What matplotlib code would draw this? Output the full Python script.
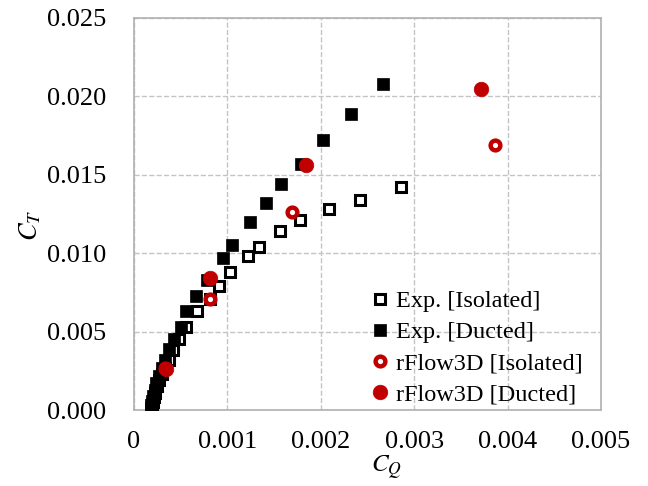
import numpy as np
import matplotlib.pyplot as plt

plt.rcParams['font.family'] = ['Liberation Serif', 'DejaVu Serif']
plt.rcParams['mathtext.fontset'] = 'stix'

# Exp. [Isolated]
exp_iso_cq = [0.00286, 0.00242, 0.00209, 0.00178, 0.00156, 0.00134, 0.00122,
              0.00103, 0.00091, 0.00081, 0.00067, 0.00056, 0.00048, 0.00042,
              0.00037, 0.00033, 0.00030, 0.00027, 0.00025, 0.00023, 0.00021,
              0.00020, 0.00019, 0.00019]
exp_iso_ct = [0.0142, 0.0134, 0.0128, 0.0121, 0.0114, 0.0104, 0.0098,
              0.0088, 0.0079, 0.0071, 0.0063, 0.0053, 0.0045, 0.0038,
              0.0032, 0.0027, 0.0023, 0.0019, 0.0015, 0.0011, 0.0008,
              0.0005, 0.0003, 0.0001]

# Exp. [Ducted]
exp_duct_cq = [0.00267, 0.00232, 0.00202, 0.00179, 0.00157, 0.00141, 0.00124,
               0.00105, 0.00095, 0.00078, 0.00066, 0.00056, 0.00050, 0.00043,
               0.00038, 0.00033, 0.00030, 0.00027, 0.00024, 0.00022, 0.00020,
               0.00019, 0.00018, 0.00018]
exp_duct_ct = [0.0208, 0.0189, 0.0172, 0.0157, 0.0144, 0.0132, 0.0120,
               0.0105, 0.0097, 0.0083, 0.0073, 0.0063, 0.0053, 0.0045,
               0.0039, 0.0032, 0.0027, 0.0022, 0.0017, 0.0013, 0.0009,
               0.0006, 0.0003, 0.0001]

# rFlow3D
rf_iso_cq = [0.00033, 0.00081, 0.00169, 0.00386]
rf_iso_ct = [0.0027, 0.0071, 0.0126, 0.0169]
rf_duct_cq = [0.00034, 0.00081, 0.00184, 0.00372]
rf_duct_ct = [0.0026, 0.0084, 0.0156, 0.0205]

red = '#c00000'

fig = plt.figure(figsize=(6.48, 4.86), dpi=100)
ax = fig.add_axes([134 / 648, 1 - 410 / 486, 467 / 648, 392 / 486])

ax.plot(exp_iso_cq, exp_iso_ct, 's', ms=6.8, mfc='white', mec='black', mew=2.2,
        label='Exp. [Isolated]', zorder=3)
ax.plot(exp_duct_cq, exp_duct_ct, 's', ms=8, mfc='black', mec='black', mew=0.5,
        label='Exp. [Ducted]', zorder=3)
ax.plot(rf_iso_cq, rf_iso_ct, 'o', ms=7, mfc='white', mec=red, mew=3.2,
        label='rFlow3D [Isolated]', zorder=4)
ax.plot(rf_duct_cq, rf_duct_ct, 'o', ms=10.5, mfc=red, mec=red, mew=0.5,
        label='rFlow3D [Ducted]', zorder=4)

ax.set_xlim(0, 0.005)
ax.set_ylim(0, 0.025)
ax.set_xticks(np.arange(0, 0.0051, 0.001))
ax.set_xticklabels(['0', '0.001', '0.002', '0.003', '0.004', '0.005'])
ax.set_yticks(np.arange(0, 0.0251, 0.005))
ax.set_yticklabels(['0.000', '0.005', '0.010', '0.015', '0.020', '0.025'])
ax.tick_params(axis='x', length=0, labelsize=19, pad=15)
ax.tick_params(axis='y', length=0, labelsize=19, pad=20)

ax.grid(True, color='#c4c4c4', linestyle='--', linewidth=1)
ax.set_axisbelow(True)
for s in ax.spines.values():
    s.set_color('#b0b0b0')
    s.set_linewidth(1.2)

ax.set_xlabel('$C_Q$', fontsize=18)
ax.set_ylabel('$C_T$', fontsize=19)
ax.xaxis.set_label_coords(0.54, -0.11)
ax.yaxis.set_label_coords(-0.195, 0.47)

ax.legend(loc='upper left', frameon=False, fontsize=17.5, handlelength=0.6,
          handletextpad=0.35, labelspacing=0.37, borderaxespad=0, borderpad=0,
          bbox_to_anchor=(0.512, 0.305))

fig.savefig('out.png', dpi=100)
